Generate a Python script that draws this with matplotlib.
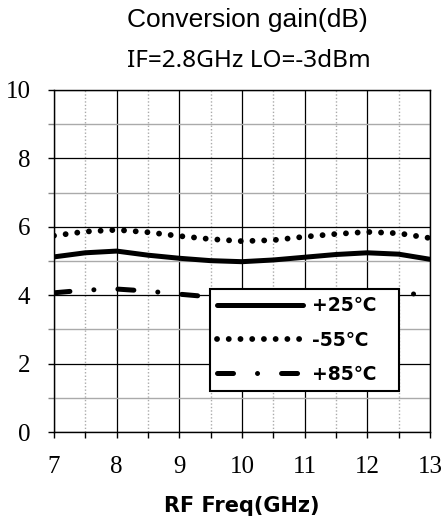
import matplotlib
matplotlib.use('Agg')
import matplotlib.pyplot as plt
from matplotlib.ticker import MultipleLocator

plt.rcParams['font.family'] = 'Liberation Serif'

freq = [7, 7.5, 8, 8.5, 9, 9.5, 10, 10.5, 11, 11.5, 12, 12.5, 13]
gain_p25 = [5.12, 5.24, 5.29, 5.17, 5.08, 5.01, 4.98, 5.03, 5.11, 5.19, 5.24, 5.20, 5.05]
gain_m55 = [5.74, 5.86, 5.91, 5.84, 5.73, 5.64, 5.58, 5.61, 5.71, 5.79, 5.85, 5.81, 5.67]
gain_p85 = [4.07, 4.15, 4.18, 4.12, 4.03, 3.95, 3.92, 3.95, 4.02, 4.07, 4.10, 4.06, 4.01]
labels = ['+25℃', '-55℃', '+85℃']

fig = plt.figure(figsize=(4.45, 5.22), dpi=100)
ax = fig.add_axes([0.1213, 0.1724, 0.8449, 0.6552])

lw = 3.6
ax.plot(freq, gain_p25, color='black', lw=lw, solid_capstyle='round', zorder=3)
l2, = ax.plot(freq, gain_m55, color='black', lw=4.2, zorder=3)
l2.set_dashes((0.01, 2.0))
l2.set_dash_capstyle('round')
l3, = ax.plot(freq, gain_p85, color='black', lw=lw, zorder=3)
l3.set_dashes((3.2, 4.8, 0.01, 4.8))
l3.set_dash_capstyle('round')

ax.set_xlim(7, 13)
ax.set_ylim(0, 10)
ax.xaxis.set_major_locator(MultipleLocator(1))
ax.xaxis.set_minor_locator(MultipleLocator(0.5))
ax.yaxis.set_major_locator(MultipleLocator(2))
ax.yaxis.set_minor_locator(MultipleLocator(1))
ax.grid(which='major', axis='both', color='black', lw=0.9)
ax.grid(which='minor', axis='x', color='#aaaaaa', lw=1.0, ls=(0, (1, 1.5)))
ax.grid(which='minor', axis='y', color='#aaaaaa', lw=1.0)
ax.set_axisbelow(True)
for s in ax.spines.values():
    s.set_color('black')
    s.set_linewidth(1.0)
ax.tick_params(which='both', direction='out', length=4, width=1, color='black')
ax.tick_params(axis='y', which='minor', color='#888888')
ax.tick_params(labelsize=18)
ax.tick_params(axis='x', pad=13)
ax.tick_params(axis='y', pad=13)

ax.set_xlabel('RF Freq(GHz)', family='DejaVu Sans', fontweight='bold', fontsize=15, labelpad=13)

fig.text(0.557, 0.962, 'Conversion gain(dB)', ha='center', va='center',
         family='Liberation Sans', fontsize=19)
fig.text(0.56, 0.883, 'IF=2.8GHz LO=-3dBm', ha='center', va='center',
         family='Noto Sans', fontsize=17.5)

leg = ax.legend(ax.get_lines(), labels, loc='upper left', bbox_to_anchor=(0.415, 0.12, 0.503, 0.298),
                mode='expand', borderaxespad=0, fancybox=False, framealpha=1, edgecolor='black',
                handlelength=4.6, handletextpad=0.45, labelspacing=0.82, borderpad=0.38,
                prop={'family': 'DejaVu Sans', 'weight': 'bold', 'size': 13.5})
leg.get_frame().set_linewidth(1.5)
leg.set_zorder(5)

fig.savefig('out.png', dpi=100)
